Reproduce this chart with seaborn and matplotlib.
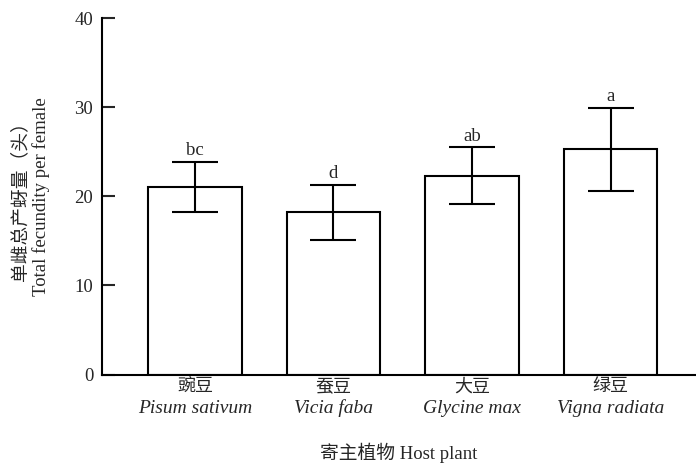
import matplotlib
matplotlib.use("Agg")
import matplotlib.pyplot as plt
import matplotlib.transforms as mtransforms
import seaborn as sns
import pandas as pd

hosts_cn = ["豌豆", "蚕豆", "大豆", "绿豆"]
hosts_latin = ["Pisum sativum", "Vicia faba", "Glycine max", "Vigna radiata"]
fecundity = [21.1, 18.2, 22.3, 25.3]
err_sd = [2.8, 3.1, 3.2, 4.65]
sig_letters = ["bc", "d", "ab", "a"]
yticks = [0, 10, 20, 30, 40]

sns.set_theme(style="ticks")
SERIF = ["Liberation Serif", "Noto Sans CJK SC"]
plt.rcParams["font.family"] = SERIF

df = pd.DataFrame({"host": hosts_cn, "value": fecundity})

fig = plt.figure(figsize=(6.96, 4.65), dpi=100)
ax = fig.add_axes([0.146, 0.1946, 0.854, 0.766])

sns.barplot(data=df, x="host", y="value", order=hosts_cn, color="white",
            edgecolor="black", linewidth=1.5, width=0.674, errorbar=None, ax=ax)
for p in ax.patches:
    p.set_facecolor("white")
    p.set_edgecolor("black")
    p.set_linewidth(1.5)

xs = list(range(len(hosts_cn)))
ax.errorbar(xs, fecundity, yerr=err_sd, fmt="none", ecolor="black",
            elinewidth=1.5, capsize=16.5, capthick=1.5, zorder=5)

for x, v, e, s in zip(xs, fecundity, err_sd, sig_letters):
    ax.annotate(s, (x, v + e), xytext=(0, 2), textcoords="offset points",
                ha="center", va="bottom", fontsize=13.5, family=SERIF)

ax.set_ylim(0, 40)
ax.set_xlim(-0.674, 3.617)
ax.set_yticks(yticks)
ax.set_yticklabels([str(t) for t in yticks], fontsize=13.5)
ax.tick_params(axis="y", direction="in", length=9, width=1.5, pad=6)
ax.tick_params(axis="x", length=0, pad=2)
ax.set_xticks(xs)
ax.set_xticklabels(hosts_cn, fontsize=13, family=["Noto Sans CJK SC"])

trans = mtransforms.blended_transform_factory(ax.transData, ax.transAxes)
for x, name in zip(xs, hosts_latin):
    ax.text(x, -0.095, name, transform=trans, ha="center", va="center",
            fontsize=14, style="italic", family=SERIF)

ax.set_xlabel("寄主植物 Host plant", fontsize=13.5, labelpad=34, family=SERIF)
ax.set_ylabel("单雌总产蚜量（头）\nTotal fecundity per female", fontsize=13.5,
              labelpad=18, family=SERIF, linespacing=1.15)

for side in ["top", "right"]:
    ax.spines[side].set_visible(False)
for side in ["left", "bottom"]:
    ax.spines[side].set_linewidth(1.5)
    ax.spines[side].set_color("black")

fig.savefig("out.png", dpi=100)
